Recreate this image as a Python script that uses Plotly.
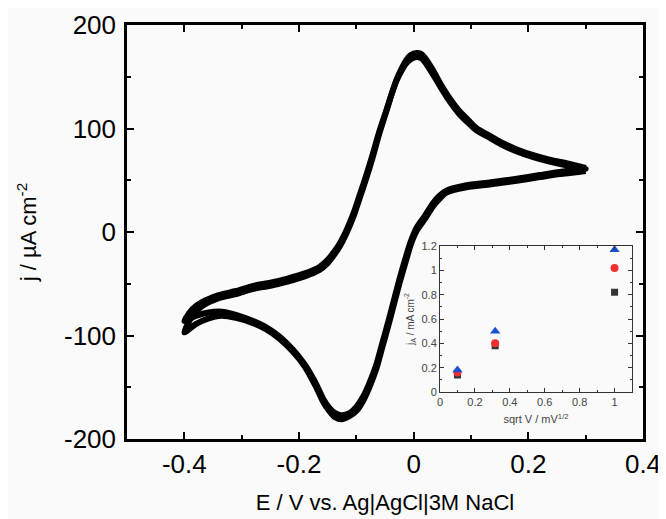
import plotly.graph_objects as go

# cyclic voltammogram, two overlapping cycles
E_cath = [0.30, 0.28, 0.255, 0.22, 0.18, 0.135, 0.09, 0.057, 0.045, 0.034,
          0.02, 0.005, -0.005, -0.013, -0.025, -0.042, -0.055, -0.065,
          -0.078, -0.088, -0.10, -0.112, -0.126, -0.137, -0.147, -0.158, -0.17, -0.19,
          -0.21, -0.234, -0.257, -0.28, -0.31, -0.335, -0.36, -0.38, -0.40]
j_cath_1 = [61, 59.5, 58, 55, 51.5, 48, 45, 40, 35, 28,
            16, 4, -9, -23, -46, -82, -108, -128,
            -147, -159, -169, -175, -177, -175, -170, -161, -147, -128,
            -114, -101, -92, -86, -80, -77, -78, -81, -86]
j_cath_2 = [59, 57.5, 56, 53, 49.5, 46, 43, 38, 32, 25,
            13, 1, -12, -27, -50, -86, -112, -132,
            -151, -163, -173, -178, -181, -179, -173, -164, -150, -130,
            -116, -103, -94, -88, -83, -81, -84, -89, -97]

E_anod = [-0.385, -0.37, -0.34, -0.31, -0.28, -0.25, -0.22, -0.19, -0.165, -0.15,
          -0.14, -0.13, -0.117, -0.105, -0.094, -0.082, -0.071, -0.06, -0.048, -0.038,
          -0.03, -0.02, -0.013, -0.005, 0.005, 0.013, 0.02, 0.034, 0.048, 0.063,
          0.078, 0.092, 0.11, 0.133, 0.155, 0.179, 0.21, 0.237, 0.27, 0.30]
j_anod_1 = [-74, -68, -61, -57, -52, -49, -45, -40, -34, -27,
            -20, -12, 2, 18, 36, 56, 76, 97, 117, 134,
            146, 157, 163, 167, 169, 168, 164, 152, 139, 126,
            115, 107, 98, 91, 84, 78, 72, 68, 64, 61]
j_anod_2 = [-80, -72, -64, -60, -55, -52, -48, -43, -37, -30,
            -23, -15, -1, 15, 33, 53, 73, 95, 116, 134,
            147, 159, 166, 171, 173, 172, 168, 156, 142, 129,
            118, 110, 100, 93, 86, 80, 74, 70, 66, 62]

# main axis tick labels (plain hyphen minus as in the original)
x_ticks = [-0.4, -0.2, 0, 0.2, 0.4]
x_ticktext = ["-0.4", "-0.2", "0", "0.2", "0.4"]
y_ticks = [-200, -100, 0, 100, 200]
y_ticktext = ["-200", "-100", "0", "100", "200"]

# inset: peak current vs sqrt of scan rate
sqrt_v = [0.1, 0.316, 1.0]
jA_square = [0.14, 0.38, 0.82]
jA_circle = [0.16, 0.40, 1.02]
jA_triangle = [0.18, 0.50, 1.17]

FONT = "Arial, Liberation Sans, sans-serif"
BG = "#fafafa"

fig = go.Figure()

for jc, ja in [(j_cath_1, j_anod_1), (j_cath_2, j_anod_2)]:
    fig.add_trace(go.Scatter(
        x=E_cath + E_anod, y=jc + ja, mode="lines",
        line=dict(color="black", width=6, shape="spline", smoothing=0.7),
        showlegend=False, xaxis="x", yaxis="y"))

fig.add_trace(go.Scatter(x=sqrt_v, y=jA_square, mode="markers",
                         marker=dict(symbol="square", size=7, color="#333333"),
                         showlegend=False, xaxis="x2", yaxis="y2"))
fig.add_trace(go.Scatter(x=sqrt_v, y=jA_circle, mode="markers",
                         marker=dict(symbol="circle", size=8, color="#f03030"),
                         showlegend=False, xaxis="x2", yaxis="y2"))
fig.add_trace(go.Scatter(x=sqrt_v, y=jA_triangle, mode="markers",
                         marker=dict(symbol="triangle-up", size=9, color="#1a4fd0"),
                         showlegend=False, xaxis="x2", yaxis="y2"))

main_ax = dict(showline=True, linecolor="black", linewidth=2.5, mirror="allticks",
               ticks="inside", ticklen=7, tickwidth=2, tickcolor="black",
               showgrid=False, zeroline=False, automargin=False,
               tickfont=dict(family=FONT, size=26, color="black"))
inset_ax = dict(showline=True, linecolor="#333333", linewidth=1, mirror="allticks",
                ticks="inside", ticklen=4, tickwidth=1, tickcolor="#333333",
                showgrid=False, zeroline=False, automargin=False,
                tickfont=dict(family=FONT, size=11, color="#444444"))

# the page body adds 8px on the left and top, so margins are shifted by that
fig.update_layout(
    width=666, height=519,
    margin=dict(l=119, r=31, t=17, b=88),
    paper_bgcolor=BG, plot_bgcolor=BG,
    font=dict(family=FONT, color="black"),
    xaxis=dict(main_ax, range=[-0.5, 0.4], tickvals=x_ticks, ticktext=x_ticktext,
               minor=dict(ticks="inside", tickvals=[-0.3, -0.1, 0.1, 0.3], ticklen=4,
                          tickwidth=2, tickcolor="black"),
               title=dict(text="E / V vs. Ag|AgCl|3M NaCl", font=dict(size=22), standoff=17)),
    yaxis=dict(main_ax, range=[-200, 200], tickvals=y_ticks, ticktext=y_ticktext,
               ticklabelstandoff=3,
               minor=dict(ticks="inside", tickvals=[-150, -50, 50, 150], ticklen=4,
                          tickwidth=2, tickcolor="black"),
               title=dict(text="j / µA cm<sup>-2</sup>", font=dict(size=22), standoff=22)),
    xaxis2=dict(inset_ax, domain=[0.6066, 0.9787], anchor="y2", range=[0, 1.1], dtick=0.2,
                minor=dict(ticks="inside", dtick=0.1, ticklen=2, tickcolor="#333333"),
                title=dict(text="sqrt V / mV<sup>1/2</sup>", font=dict(size=11, color="#444444"),
                           standoff=8)),
    yaxis2=dict(inset_ax, domain=[0.1135, 0.4662], anchor="x2", range=[0, 1.2], dtick=0.2,
                minor=dict(ticks="inside", dtick=0.1, ticklen=2, tickcolor="#333333"),
                title=dict(text="j<sub>A</sub> / mA cm<sup>-2</sup>",
                           font=dict(size=10, color="#444444"), standoff=5)),
)

fig.write_html("out.html")
